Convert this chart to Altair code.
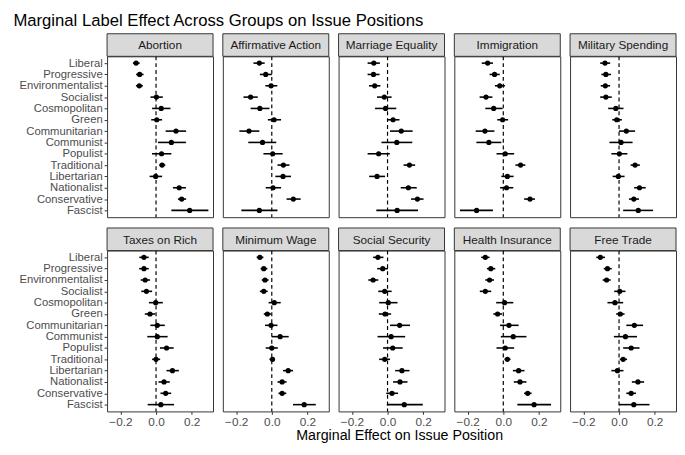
import altair as alt
import pandas as pd

labels = ["Liberal", "Progressive", "Environmentalist", "Socialist", "Cosmopolitan", "Green",
          "Communitarian", "Communist", "Populist", "Traditional", "Libertarian", "Nationalist",
          "Conservative", "Fascist"]

issues = ["Abortion", "Affirmative Action", "Marriage Equality", "Immigration", "Military Spending",
          "Taxes on Rich", "Minimum Wage", "Social Security", "Health Insurance", "Free Trade"]

abortion_est = [-0.112, -0.092, -0.094, 0.002, 0.029, 0.004, 0.112, 0.086, 0.031, 0.034, -0.002, 0.130, 0.144, 0.189]
abortion_lo = [-0.130, -0.112, -0.113, -0.031, -0.022, -0.027, 0.054, 0.011, -0.023, 0.018, -0.036, 0.095, 0.123, 0.086]
abortion_hi = [-0.092, -0.070, -0.074, 0.038, 0.081, 0.034, 0.169, 0.168, 0.086, 0.052, 0.034, 0.168, 0.169, 0.294]

affirm_est = [-0.070, -0.034, -0.004, -0.119, -0.067, 0.013, -0.128, -0.052, 0.005, 0.065, 0.063, 0.007, 0.121, -0.070]
affirm_lo = [-0.103, -0.067, -0.036, -0.159, -0.119, -0.022, -0.182, -0.132, -0.047, 0.032, 0.020, -0.034, 0.083, -0.171]
affirm_hi = [-0.040, 0.000, 0.031, -0.079, -0.013, 0.052, -0.070, 0.025, 0.061, 0.099, 0.108, 0.052, 0.162, 0.032]

marriage_est = [-0.077, -0.079, -0.072, -0.018, -0.011, 0.031, 0.077, 0.052, -0.050, 0.123, -0.059, 0.117, 0.168, 0.054]
marriage_lo = [-0.112, -0.112, -0.104, -0.059, -0.070, -0.002, 0.014, -0.034, -0.112, 0.090, -0.103, 0.074, 0.132, -0.063]
marriage_hi = [-0.043, -0.045, -0.040, 0.023, 0.049, 0.067, 0.141, 0.139, 0.013, 0.155, -0.014, 0.164, 0.202, 0.171]

immig_est = [-0.088, -0.049, -0.020, -0.097, -0.054, -0.004, -0.103, -0.081, 0.011, 0.097, 0.023, 0.018, 0.150, -0.150]
immig_lo = [-0.121, -0.077, -0.047, -0.133, -0.101, -0.034, -0.155, -0.151, -0.038, 0.068, -0.011, -0.018, 0.117, -0.243]
immig_hi = [-0.058, -0.020, 0.009, -0.061, -0.004, 0.027, -0.050, -0.011, 0.061, 0.124, 0.058, 0.056, 0.178, -0.058]

military_est = [-0.079, -0.074, -0.077, -0.074, -0.018, -0.013, 0.041, 0.011, 0.002, 0.090, -0.004, 0.115, 0.083, 0.108]
military_lo = [-0.106, -0.099, -0.103, -0.106, -0.061, -0.038, 0.000, -0.054, -0.043, 0.065, -0.036, 0.085, 0.056, 0.023]
military_hi = [-0.050, -0.045, -0.050, -0.041, 0.025, 0.016, 0.090, 0.076, 0.047, 0.117, 0.031, 0.150, 0.112, 0.191]

taxes_est = [-0.068, -0.068, -0.061, -0.054, -0.002, -0.034, 0.007, 0.007, 0.059, 0.000, 0.092, 0.045, 0.054, 0.027]
taxes_lo = [-0.094, -0.095, -0.086, -0.083, -0.040, -0.063, -0.032, -0.049, 0.022, -0.022, 0.059, 0.014, 0.025, -0.047]
taxes_hi = [-0.041, -0.041, -0.034, -0.022, 0.038, -0.005, 0.049, 0.065, 0.099, 0.023, 0.128, 0.077, 0.085, 0.101]

minwage_est = [-0.067, -0.045, -0.038, -0.045, 0.014, -0.025, -0.004, 0.047, 0.000, 0.004, 0.092, 0.058, 0.058, 0.182]
minwage_lo = [-0.085, -0.063, -0.056, -0.067, -0.018, -0.045, -0.038, 0.000, -0.034, -0.013, 0.063, 0.032, 0.038, 0.119]
minwage_hi = [-0.047, -0.025, -0.018, -0.023, 0.050, -0.004, 0.032, 0.095, 0.034, 0.018, 0.119, 0.083, 0.081, 0.247]

socsec_est = [-0.054, -0.027, -0.081, -0.016, 0.004, -0.014, 0.068, 0.020, 0.029, -0.016, 0.081, 0.070, 0.025, 0.094]
socsec_lo = [-0.081, -0.058, -0.108, -0.052, -0.047, -0.049, 0.014, -0.056, -0.025, -0.047, 0.043, 0.031, -0.007, -0.004]
socsec_hi = [-0.023, 0.002, -0.052, 0.023, 0.056, 0.020, 0.126, 0.099, 0.085, 0.014, 0.123, 0.112, 0.059, 0.198]

health_est = [-0.101, -0.070, -0.077, -0.101, 0.007, -0.032, 0.032, 0.056, 0.011, 0.023, 0.086, 0.094, 0.137, 0.173]
health_lo = [-0.124, -0.092, -0.101, -0.132, -0.040, -0.056, -0.018, -0.014, -0.038, 0.007, 0.054, 0.059, 0.117, 0.079]
health_hi = [-0.077, -0.045, -0.052, -0.068, 0.056, -0.007, 0.086, 0.130, 0.061, 0.041, 0.119, 0.130, 0.159, 0.268]

trade_est = [-0.105, -0.065, -0.070, 0.004, -0.023, 0.007, 0.086, 0.036, 0.068, 0.023, -0.009, 0.106, 0.068, 0.083]
trade_lo = [-0.128, -0.086, -0.092, -0.027, -0.065, -0.016, 0.041, -0.029, 0.023, 0.004, -0.043, 0.072, 0.041, 0.000]
trade_hi = [-0.079, -0.041, -0.047, 0.036, 0.023, 0.031, 0.135, 0.101, 0.115, 0.045, 0.025, 0.141, 0.095, 0.171]

series = {
    "Abortion": (abortion_est, abortion_lo, abortion_hi),
    "Affirmative Action": (affirm_est, affirm_lo, affirm_hi),
    "Marriage Equality": (marriage_est, marriage_lo, marriage_hi),
    "Immigration": (immig_est, immig_lo, immig_hi),
    "Military Spending": (military_est, military_lo, military_hi),
    "Taxes on Rich": (taxes_est, taxes_lo, taxes_hi),
    "Minimum Wage": (minwage_est, minwage_lo, minwage_hi),
    "Social Security": (socsec_est, socsec_lo, socsec_hi),
    "Health Insurance": (health_est, health_lo, health_hi),
    "Free Trade": (trade_est, trade_lo, trade_hi),
}

W = 108
H = 164
STRIP = 23
FONT = "Liberation Sans"

xscale = alt.Scale(domain=[-0.275, 0.32], nice=False, zero=False)
yscale = alt.Scale(type="point", padding=0.6)


def panel(issue, left, bottom):
    est, lo, hi = series[issue]
    d = pd.DataFrame({"label": labels, "est": est, "lo": lo, "hi": hi})
    xaxis = alt.Axis(values=[-0.2, 0.0, 0.2], format=".1f", title=None, labelFontSize=12) if bottom else None
    yaxis = alt.Axis(title=None, labelFontSize=11.5) if left else None

    zero = alt.Chart(pd.DataFrame({"zero": [0.0]})).mark_rule(
        color="black", strokeDash=[4, 3], strokeWidth=1.2
    ).encode(x=alt.X("zero:Q", scale=xscale, axis=xaxis))
    bars = alt.Chart(d).mark_rule(color="black", strokeWidth=1.6).encode(
        x=alt.X("lo:Q", scale=xscale, axis=xaxis),
        x2="hi:Q",
        y=alt.Y("label:N", sort=labels, scale=yscale, axis=yaxis),
    )
    pts = alt.Chart(d).mark_circle(color="black", size=28, opacity=1).encode(
        x=alt.X("est:Q", scale=xscale, axis=xaxis),
        y=alt.Y("label:N", sort=labels, scale=yscale, axis=yaxis),
    )
    sdf = pd.DataFrame({"issue": [issue]})
    strip = alt.Chart(sdf).mark_rect(fill="#d9d9d9", stroke="#333333", strokeWidth=1).encode(
        x=alt.value(0), x2=alt.value(W), y=alt.value(-STRIP), y2=alt.value(0)
    )
    stext = alt.Chart(sdf).mark_text(
        font=FONT, fontSize=12, color="#1a1a1a", align="center", baseline="middle"
    ).encode(text="issue:N", x=alt.value(W / 2), y=alt.value(-STRIP / 2 + 0.5))
    return alt.layer(zero, bars, pts, strip, stext).properties(width=W, height=H)


row1 = alt.hconcat(*[panel(issues[i], i == 0, False) for i in range(5)], spacing=8)
row2 = alt.hconcat(
    *[panel(issues[i], i == 5, True) for i in range(5, 10)],
    spacing=8,
).properties(
    title=alt.TitleParams(
        text="Marginal Effect on Issue Position", orient="bottom", anchor="middle",
        frame="bounds", font=FONT, fontSize=14.5, fontWeight="normal", color="black",
        offset=2, dx=53,
    )
)

chart = alt.vconcat(row1, row2, spacing=8).properties(
    title=alt.TitleParams(
        text="Marginal Label Effect Across Groups on Issue Positions",
        anchor="start", frame="bounds", font=FONT, fontSize=17, fontWeight="normal",
        color="black", offset=3, dx=-5,
    ),
    padding={"left": 5, "top": 0, "right": 0, "bottom": 0},
).configure_view(
    stroke="#333333", strokeWidth=1
).configure_axis(
    domain=False, grid=False, labelFont=FONT, labelColor="#4d4d4d",
    tickColor="#333333", tickSize=3, labelPadding=2
)

chart.save("out.html", embed_options={"renderer": "svg", "actions": False})
